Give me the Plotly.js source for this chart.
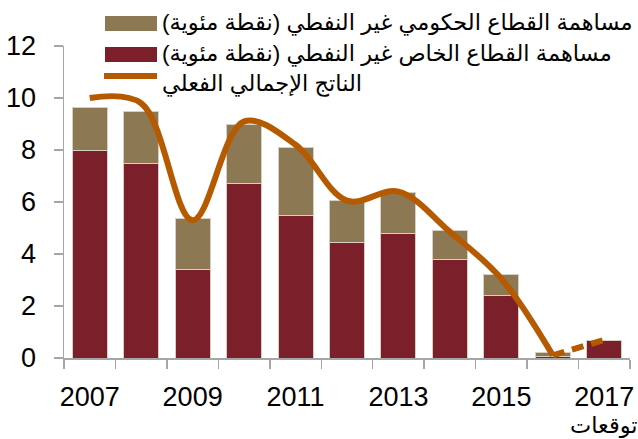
<!DOCTYPE html>
<html>
<head>
<meta charset="utf-8">
<script src="https://cdn.plot.ly/plotly-3.0.1.min.js"></script>
<style>
  body { margin: 0; background: #fff; }
  #chart { width: 638px; height: 439px; }
</style>
</head>
<body>
<div id="chart"></div>
<script>
// data
var years = [2007, 2008, 2009, 2010, 2011, 2012, 2013, 2014, 2015, 2016, 2017];
var privateSector = [8.0, 7.5, 3.4, 6.7, 5.5, 4.45, 4.8, 3.8, 2.4, 0.05, 0.68];
var govSector = [1.65, 2.0, 1.95, 2.3, 2.6, 1.6, 1.55, 1.1, 0.8, 0.17, 0];
var gdpYears = [2007, 2008, 2009, 2010, 2011, 2012, 2013, 2014, 2015, 2016];
var gdp = [10.0, 9.8, 5.3, 9.1, 8.2, 6.05, 6.4, 4.85, 3.05, 0.1];
var forecastYears = [2016, 2017];
var gdpForecast = [0.1, 0.7];
var tickYears = [2007, 2009, 2011, 2013, 2015, 2017];

var govName = '\u200Fمساهمة القطاع الحكومي غير النفطي (نقطة مئوية)\u200F';
var privName = '\u200Fمساهمة القطاع الخاص غير النفطي (نقطة مئوية)\u200F';
var gdpName = '\u200Fالناتج الإجمالي الفعلي\u200F';
var forecastLabel = 'توقعات';

var cPriv = '#7B1F2A', cGov = '#8C7853', cLine = '#B65A02';
var fontFam = 'Liberation Sans, DejaVu Sans, Arial, sans-serif';

// plot area in pixels: x 64..630, y 46..358
var L = 64, R = 630, T = 46, B = 358;
function px(x) { return (x - L) / (R - L); }
function py(y) { return (B - y) / (B - T); }

var traces = [
  {
    type: 'bar', x: years, y: privateSector, name: privName,
    marker: {color: cPriv, line: {color: '#d8cfc3', width: 1}},
    hoverinfo: 'x+y'
  },
  {
    type: 'bar', x: years, y: govSector, name: govName,
    marker: {color: cGov, line: {color: '#d8cfc3', width: 1}},
    hoverinfo: 'x+y'
  },
  {
    type: 'scatter', mode: 'lines', x: gdpYears, y: gdp, name: gdpName,
    line: {color: cLine, width: 6, shape: 'spline', smoothing: 1}
  },
  {
    type: 'scatter', mode: 'lines', x: forecastYears, y: gdpForecast,
    line: {color: cLine, width: 6, dash: '12px,8px'}
  }
];

var layout = {
  width: 638,
  height: 439,
  margin: {l: L, r: 638 - R, t: T, b: 439 - B},
  barmode: 'stack',
  bargap: 0.32,
  showlegend: false,
  paper_bgcolor: '#fff',
  plot_bgcolor: '#fff',
  font: {family: fontFam, color: '#000', size: 27},
  xaxis: {
    range: [2006.5, 2017.5],
    tickvals: tickYears,
    ticktext: tickYears.map(String),
    ticks: '',
    ticklabelstandoff: 14,
    showgrid: false,
    zeroline: false,
    showline: true,
    linecolor: '#a6a6a6',
    linewidth: 1.5,
    minor: {tick0: 2006.5, dtick: 1, ticks: 'outside', ticklen: 9, tickcolor: '#a6a6a6', tickwidth: 1.5, showgrid: false},
    tickfont: {size: 27}
  },
  yaxis: {
    range: [0, 12],
    dtick: 2,
    ticks: 'outside',
    ticklen: 9,
    tickcolor: '#a6a6a6',
    tickwidth: 1.5,
    ticklabelstandoff: 12,
    showgrid: false,
    zeroline: false,
    showline: true,
    linecolor: '#a6a6a6',
    linewidth: 1.5,
    tickfont: {size: 27}
  },
  shapes: [
    // legend swatches
    {type: 'rect', xref: 'paper', yref: 'paper', x0: px(105), x1: px(157), y0: py(31), y1: py(16),
     fillcolor: cGov, line: {width: 0}},
    {type: 'rect', xref: 'paper', yref: 'paper', x0: px(105), x1: px(157), y0: py(62), y1: py(47),
     fillcolor: cPriv, line: {width: 0}},
    {type: 'line', xref: 'paper', yref: 'paper', x0: px(104), x1: px(157), y0: py(76), y1: py(76),
     line: {color: cLine, width: 6}}
  ],
  annotations: [
    {xref: 'paper', yref: 'paper', x: px(160), y: py(23), xanchor: 'left', yanchor: 'middle',
     text: govName, showarrow: false, font: {size: 22.5}},
    {xref: 'paper', yref: 'paper', x: px(160), y: py(54), xanchor: 'left', yanchor: 'middle',
     text: privName, showarrow: false, font: {size: 22.5}},
    {xref: 'paper', yref: 'paper', x: px(160), y: py(84), xanchor: 'left', yanchor: 'middle',
     text: gdpName, showarrow: false, font: {size: 22.5}},
    {xref: 'x', yref: 'paper', x: 2017, y: py(426), xanchor: 'center', yanchor: 'middle',
     text: forecastLabel, showarrow: false, font: {size: 22.5}}
  ]
};

Plotly.newPlot('chart', traces, layout, {displayModeBar: false, staticPlot: true});
</script>
</body>
</html>
